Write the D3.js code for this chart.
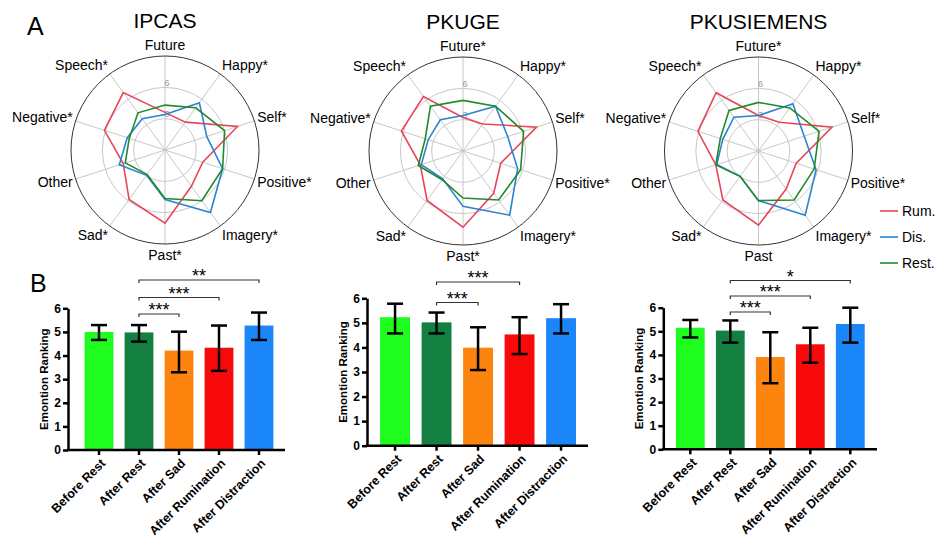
<!DOCTYPE html>
<html>
<head>
<meta charset="utf-8">
<script src="https://cdn.jsdelivr.net/npm/d3@7"></script>
<style>
  body { margin: 0; background: #fff; }
  svg, svg text { font-family: "Liberation Sans", Arial, sans-serif; }
</style>
</head>
<body>
<svg id="chart" width="936" height="538"></svg>
<script>
// ---- data ----
const radarAxes = ['Future', 'Happy', 'Self', 'Positive', 'Imagery', 'Past', 'Sad', 'Other', 'Negative', 'Speech'];

const ipcasLabels = ['Future', 'Happy*', 'Self*', 'Positive*', 'Imagery*', 'Past*', 'Sad*', 'Other', 'Negative*', 'Speech*'];
const pkugeLabels = ['Future*', 'Happy*', 'Self*', 'Positive*', 'Imagery*', 'Past*', 'Sad*', 'Other', 'Negative*', 'Speech*'];
const siemensLabels = ['Future*', 'Happy*', 'Self*', 'Positive*', 'Imagery*', 'Past', 'Sad*', 'Other', 'Negative*', 'Speech*'];

const radarTicks = [3, 6];
const seriesNames = ['Rum.', 'Dis.', 'Rest.'];

const ipcasRum = [3.6, 3.3, 7.3, 3.8, 4.3, 7.0, 5.85, 4.2, 6.1, 6.8];
const ipcasDis = [3.4, 5.6, 4.2, 5.8, 7.4, 4.75, 3.0, 4.6, 3.8, 3.7];
const ipcasRest = [4.3, 5.0, 6.0, 5.8, 6.0, 4.65, 2.9, 4.0, 3.6, 4.4];

const pkugeRum = [3.2, 3.2, 7.4, 3.8, 5.0, 7.3, 5.85, 4.3, 6.2, 6.45];
const pkugeDis = [3.4, 5.3, 4.5, 5.5, 7.6, 5.3, 3.3, 4.2, 3.5, 3.7];
const pkugeRest = [4.85, 5.3, 6.1, 5.8, 5.8, 4.5, 3.4, 4.5, 3.8, 5.3];

const siemensRum = [3.4, 3.4, 7.4, 3.8, 4.5, 7.1, 5.8, 4.3, 6.1, 6.9];
const siemensDis = [3.4, 5.6, 4.6, 5.8, 7.6, 4.75, 3.0, 4.2, 3.6, 4.0];
const siemensRest = [4.65, 5.1, 6.1, 5.6, 5.8, 4.75, 3.0, 4.3, 3.85, 4.8];

const conditions = ['Before Rest', 'After Rest', 'After Sad', 'After Rumination', 'After Distraction'];
const yTicks = [0, 1, 2, 3, 4, 5, 6];

const ipcasMean = [5.0, 4.98, 4.21, 4.33, 5.27];
const ipcasLow = [4.66, 4.59, 3.29, 3.35, 4.66];
const ipcasHigh = [5.29, 5.29, 5.01, 5.27, 5.82];
const ipcasSig = [['After Rest', 'After Sad', '***'], ['After Rest', 'After Rumination', '***'], ['After Rest', 'After Distraction', '**']];

const pkugeMean = [5.23, 5.02, 3.99, 4.53, 5.19];
const pkugeLow = [4.57, 4.57, 3.08, 3.73, 4.57];
const pkugeHigh = [5.78, 5.42, 4.82, 5.23, 5.76];
const pkugeSig = [['After Rest', 'After Sad', '***'], ['After Rest', 'After Rumination', '***']];

const siemensMean = [5.15, 5.03, 3.91, 4.45, 5.31];
const siemensLow = [4.74, 4.52, 2.80, 3.67, 4.52];
const siemensHigh = [5.48, 5.46, 4.96, 5.15, 6.0];
const siemensSig = [['After Rest', 'After Sad', '***'], ['After Rest', 'After Rumination', '***'], ['After Rest', 'After Distraction', '*']];

// ---- styles ----
const FONT = '"Liberation Sans", Arial, sans-serif';
const lineColors = ['#e8475a', '#2a84cf', '#1f8b2a'];
const barColors = ['#1ffc1f', '#138042', '#fc840f', '#f80a0a', '#1a86f8'];

const svg = d3.select('#chart');

svg.append('text').attr('x', 27).attr('y', 35).attr('font-size', 25).text('A');
svg.append('text').attr('x', 30).attr('y', 292).attr('font-size', 25).text('B');

// ---- radar charts ----
function drawRadar(cx, cy, title, labels, series) {
  const g = svg.append('g').attr('transform', 'translate(' + cx + ',' + cy + ')');
  const r = d3.scaleLinear().domain([0, 9]).range([0, 94]);
  const angle = i => i * 2 * Math.PI / radarAxes.length;

  g.append('text')
    .attr('x', 0).attr('y', -122)
    .attr('text-anchor', 'middle')
    .attr('font-size', 21)
    .text(title);

  // spokes
  g.selectAll('.spoke')
    .data(radarAxes)
    .enter()
    .append('line')
    .attr('x1', 0).attr('y1', 0)
    .attr('x2', (d, i) => r(9) * Math.sin(angle(i)))
    .attr('y2', (d, i) => -r(9) * Math.cos(angle(i)))
    .attr('stroke', '#c8c8c8')
    .attr('stroke-width', 1);

  g.selectAll('.ring')
    .data(radarTicks)
    .enter()
    .append('circle')
    .attr('r', d => r(d))
    .attr('fill', 'none')
    .attr('stroke', '#c8c8c8')
    .attr('stroke-width', 1);

  g.append('circle')
    .attr('r', r(9))
    .attr('fill', 'none')
    .attr('stroke', '#333')
    .attr('stroke-width', 1);

  g.selectAll('.tick-label')
    .data(radarTicks)
    .enter()
    .append('text')
    .attr('x', 2)
    .attr('y', d => -r(d) - 1.5)
    .attr('text-anchor', 'middle')
    .attr('font-size', 9)
    .attr('fill', '#999')
    .text(d => d);

  // axis labels
  g.selectAll('.axis-label')
    .data(labels)
    .enter()
    .append('text')
    .attr('x', (d, i) => 97 * Math.sin(angle(i)))
    .attr('y', (d, i) => -105 * Math.cos(angle(i)))
    .attr('dy', '0.35em')
    .attr('text-anchor', (d, i) => {
      const s = Math.sin(angle(i));
      return Math.abs(s) < 0.01 ? 'middle' : (s > 0 ? 'start' : 'end');
    })
    .attr('font-size', 14)
    .text(d => d);

  const line = d3.lineRadial()
    .angle((d, i) => angle(i))
    .radius(d => r(d))
    .curve(d3.curveLinearClosed);

  series.forEach((values, k) => {
    g.append('path')
      .attr('d', line(values))
      .attr('fill', 'none')
      .attr('stroke', lineColors[k])
      .attr('stroke-width', 1.6);
  });
}

drawRadar(165, 150, 'IPCAS', ipcasLabels, [ipcasRum, ipcasDis, ipcasRest]);
drawRadar(463, 151, 'PKUGE', pkugeLabels, [pkugeRum, pkugeDis, pkugeRest]);
drawRadar(758.5, 151, 'PKUSIEMENS', siemensLabels, [siemensRum, siemensDis, siemensRest]);

// legend
const legend = svg.append('g').attr('transform', 'translate(880,211)');
seriesNames.forEach((name, k) => {
  legend.append('line')
    .attr('x1', 0).attr('x2', 18)
    .attr('y1', k * 26).attr('y2', k * 26)
    .attr('stroke', lineColors[k])
    .attr('stroke-width', 1.6);
  legend.append('text')
    .attr('x', 22).attr('y', k * 26)
    .attr('dy', '0.35em')
    .attr('font-size', 14)
    .text(name);
});

// ---- bar charts ----
function drawBars(opt, mean, low, high, sig) {
  const x = d3.scaleBand()
    .domain(conditions)
    .range([opt.bandStart, opt.bandEnd])
    .paddingInner(0.28)
    .paddingOuter(0.14);

  const y = d3.scaleLinear()
    .domain([0, 6])
    .range([opt.y0, opt.y6]);

  const g = svg.append('g');

  g.selectAll('.bar')
    .data(conditions)
    .enter()
    .append('rect')
    .attr('x', d => x(d))
    .attr('y', (d, i) => y(mean[i]))
    .attr('width', x.bandwidth())
    .attr('height', (d, i) => y(0) - y(mean[i]))
    .attr('fill', (d, i) => barColors[i]);

  // error bars
  const cap = 8;
  conditions.forEach((d, i) => {
    const cx = x(d) + x.bandwidth() / 2;
    g.append('line')
      .attr('x1', cx).attr('x2', cx)
      .attr('y1', y(low[i])).attr('y2', y(high[i]))
      .attr('stroke', '#000').attr('stroke-width', 2.5);
    [low[i], high[i]].forEach(v => {
      g.append('line')
        .attr('x1', cx - cap).attr('x2', cx + cap)
        .attr('y1', y(v)).attr('y2', y(v))
        .attr('stroke', '#000').attr('stroke-width', 2.5);
    });
  });

  // y axis
  const yAxis = g.append('g')
    .attr('transform', 'translate(' + opt.axisX + ',0)')
    .call(d3.axisLeft(y).tickValues(yTicks).tickFormat(d3.format('d')).tickSize(5).tickSizeOuter(0).tickPadding(2));
  yAxis.select('.domain').attr('stroke-width', 2.5);
  yAxis.selectAll('.tick line').attr('stroke-width', 2.5);
  yAxis.selectAll('.tick text')
    .attr('font-size', 12).attr('font-weight', 'bold')
    .attr('font-family', FONT);

  // x axis
  const xAxis = g.append('g')
    .attr('transform', 'translate(0,' + opt.y0 + ')')
    .call(d3.axisBottom(x).tickSize(5).tickSizeOuter(0));
  xAxis.select('.domain').remove();
  xAxis.selectAll('.tick line').attr('stroke-width', 2.5);
  xAxis.selectAll('.tick text')
    .attr('font-size', 12.5).attr('font-weight', 'bold')
    .attr('font-family', FONT)
    .attr('text-anchor', 'end')
    .attr('x', 0).attr('y', 0)
    .attr('dy', '0.35em')
    .attr('transform', 'translate(4,11) rotate(-45)');

  g.append('line')
    .attr('x1', opt.axisX - 1.25).attr('x2', opt.axisEnd)
    .attr('y1', opt.y0).attr('y2', opt.y0)
    .attr('stroke', '#000').attr('stroke-width', 2.5);

  g.append('text')
    .attr('transform', 'translate(' + (opt.axisX - 20) + ',' + ((opt.y0 + opt.y6) / 2) + ') rotate(-90)')
    .attr('text-anchor', 'middle')
    .attr('font-size', 11.5).attr('font-weight', 'bold')
    .text('Emontion Ranking');

  // significance brackets
  sig.forEach((s, k) => {
    const x1 = x(s[0]) + x.bandwidth() / 2;
    const x2 = x(s[1]) + x.bandwidth() / 2;
    const yy = opt.sigY[k];
    g.append('path')
      .attr('d', 'M' + x1 + ',' + (yy + 3) + 'V' + yy + 'H' + x2 + 'V' + (yy + 3))
      .attr('fill', 'none')
      .attr('stroke', '#333')
      .attr('stroke-width', 1.2);
    g.append('text')
      .attr('x', (x1 + x2) / 2).attr('y', yy + 2)
      .attr('text-anchor', 'middle')
      .attr('font-size', 18)
      .text(s[2]);
  });
}

drawBars({ axisX: 68, axisEnd: 285, y0: 450, y6: 308.3, bandStart: 79, bandEnd: 279, sigY: [314, 297.5, 280] },
  ipcasMean, ipcasLow, ipcasHigh, ipcasSig);
drawBars({ axisX: 367, axisEnd: 588, y0: 445.7, y6: 298.3, bandStart: 374.3, bandEnd: 581.8, sigY: [302.5, 282] },
  pkugeMean, pkugeLow, pkugeHigh, pkugeSig);
drawBars({ axisX: 663.3, axisEnd: 877, y0: 449.3, y6: 307.7, bandStart: 670.3, bandEnd: 870.3, sigY: [312, 296, 280.5] },
  siemensMean, siemensLow, siemensHigh, siemensSig);
</script>
</body>
</html>
